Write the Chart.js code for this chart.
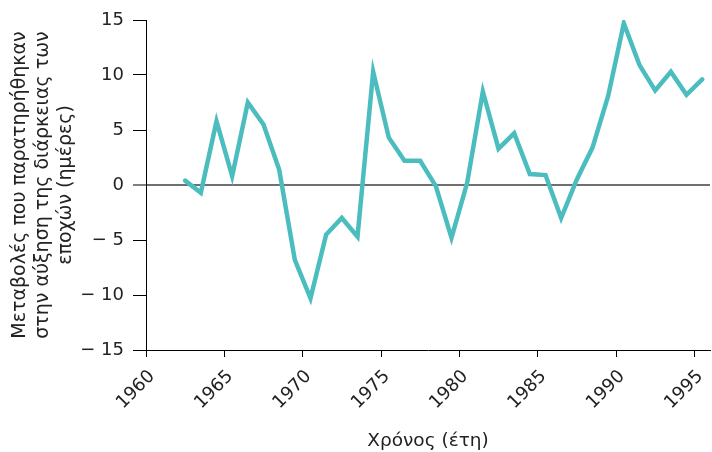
<!DOCTYPE html>
<html>
<head>
<meta charset="utf-8">
<script src="https://cdn.jsdelivr.net/npm/chart.js@4/dist/chart.umd.min.js"></script>
<style>
  html, body { margin: 0; padding: 0; background: #fff; }
  #wrap { width: 712px; height: 452px; }
</style>
</head>
<body>
<div id="wrap"><canvas id="grafico"></canvas></div>
<script>
// years (mid-year) and change in season length (days)
const anios = [
    1962.5, 1963.5, 1964.5, 1965.5, 1966.5, 1967.5, 1968.5, 1969.5,
    1970.5, 1971.5, 1972.5, 1973.5, 1974.5, 1975.5, 1976.5, 1977.5,
    1978.5, 1979.5, 1980.5, 1981.5, 1982.5, 1983.5, 1984.5, 1985.5,
    1986.5, 1987.5, 1988.5, 1989.5, 1990.5, 1991.5, 1992.5, 1993.5,
    1994.5, 1995.5
];
const valores = [
    0.4, -0.7, 5.8, 0.8, 7.5, 5.5, 1.4, -6.8,
    -10.3, -4.5, -3.0, -4.7, 10.3, 4.3, 2.2, 2.2,
    -0.1, -4.8, 0.2, 8.5, 3.3, 4.7, 1.0, 0.9,
    -3.0, 0.5, 3.4, 8.1, 14.7, 10.9, 8.6, 10.3,
    8.2, 9.6
];

const tituloY = [
    "Μεταβολές που παρατηρήθηκαν",
    "στην αύξηση της διάρκειας των",
    "εποχών (ημέρες)"
];
const tituloX = "Χρόνος (έτη)";

const puntos = anios.map((a, i) => ({ x: a, y: valores[i] }));

const fuente = "'DejaVu Sans', Verdana, sans-serif";

new Chart(
    document.getElementById("grafico"),
    {
        type: "line",
        data: {
            datasets: [
                {
                    data: puntos,
                    borderColor: "#4bbdbf",
                    borderWidth: 4.5,
                    pointRadius: 0,
                    tension: 0,
                    borderCapStyle: "round",
                    borderJoinStyle: "miter"
                }
            ]
        },
        options: {
            responsive: true,
            maintainAspectRatio: false,
            animation: false,
            layout: {
                padding: { top: 20, right: 2, left: 0, bottom: 0 }
            },
            plugins: {
                legend: { display: false },
                tooltip: { enabled: false }
            },
            scales: {
                x: {
                    type: "linear",
                    min: 1960,
                    max: 1996,
                    afterFit: s => {
                        s.height = 102;
                        s.paddingRight = 0;
                        s.paddingLeft = 0;
                    },
                    border: { display: true, color: "#000", width: 1 },
                    grid: {
                        drawOnChartArea: false,
                        color: "#000",
                        tickColor: "#000",
                        tickLength: 7,
                        tickWidth: 1
                    },
                    ticks: {
                        stepSize: 5,
                        includeBounds: false,
                        minRotation: 45,
                        maxRotation: 45,
                        padding: 9,
                        labelOffset: 6,
                        color: "#222",
                        font: { family: fuente, size: 18 },
                        callback: v => String(v)
                    },
                    title: {
                        display: true,
                        text: tituloX,
                        color: "#222",
                        font: { family: fuente, size: 18.5, lineHeight: 1.2 },
                        padding: { top: 0, bottom: 0 }
                    }
                },
                y: {
                    min: -15,
                    max: 15,
                    afterFit: s => { s.width = 146; },
                    border: { display: true, color: "#000", width: 1 },
                    grid: {
                        color: c => c.tick && c.tick.value === 0 ? "#707070" : "rgba(0,0,0,0)",
                        lineWidth: c => c.tick && c.tick.value === 0 ? 2 : 1,
                        tickColor: "#000",
                        tickLength: 13,
                        tickWidth: 1
                    },
                    ticks: {
                        stepSize: 5,
                        padding: 9,
                        color: "#222",
                        font: { family: fuente, size: 18 },
                        callback: v => v < 0 ? "− " + Math.abs(v) : String(v)
                    },
                    title: {
                        display: true,
                        text: tituloY,
                        color: "#222",
                        font: { family: fuente, size: 19, lineHeight: 1.21 },
                        padding: { top: 8.5, bottom: 0 }
                    }
                }
            }
        }
    }
);
</script>
</body>
</html>
